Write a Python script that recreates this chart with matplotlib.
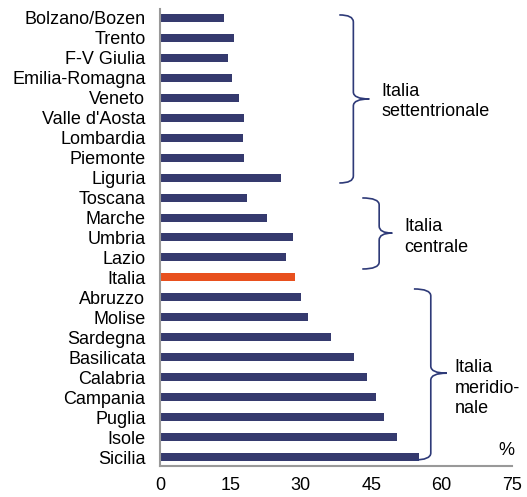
import matplotlib.pyplot as plt
from matplotlib.path import Path
from matplotlib.patches import PathPatch

plt.rcParams['font.family'] = ['Liberation Sans', 'DejaVu Sans']

regioni = ['Bolzano/Bozen', 'Trento', 'F-V Giulia', 'Emilia-Romagna', 'Veneto',
           "Valle d'Aosta", 'Lombardia', 'Piemonte', 'Liguria', 'Toscana',
           'Marche', 'Umbria', 'Lazio', 'Italia', 'Abruzzo', 'Molise', 'Sardegna',
           'Basilicata', 'Calabria', 'Campania', 'Puglia', 'Isole', 'Sicilia']
valori = [13.6, 15.7, 14.5, 15.4, 16.8, 17.9, 17.6, 18.0, 25.8, 18.5,
          22.9, 28.4, 26.9, 28.7, 30.1, 31.6, 36.5, 41.3, 44.1, 46.0,
          47.7, 50.6, 55.2]
xticks = [0, 15, 30, 45, 60, 75]

navy = '#353a6e'
orange = '#e8501e'
brace_col = '#2e3a78'
fs = 13

fig = plt.figure(figsize=(5.27, 4.97), dpi=100)
ax = fig.add_axes([0.3036, 0.0624, 0.6679, 0.9196])

colori = [orange if r == 'Italia' else navy for r in regioni]
ax.barh(range(len(regioni)), valori, height=0.4, color=colori)

ax.set_xlim(0, 75)
ax.set_ylim(len(regioni) - 0.55, -0.45)
ax.set_yticks(range(len(regioni)))
ax.set_yticklabels(regioni, fontsize=fs)
ax.set_xticks(xticks)
ax.set_xticklabels([str(t) for t in xticks], fontsize=fs)
ax.tick_params(length=0)
ax.tick_params(axis='y', pad=10.5)
ax.tick_params(axis='x', pad=8)
for s in ['top', 'right']:
    ax.spines[s].set_visible(False)
for s in ['left', 'bottom']:
    ax.spines[s].set_color('#999999')
    ax.spines[s].set_linewidth(1.5)


def graffa(x0, xv, xt, y0, y1, ym, r=0.35):
    verts = [(x0, y0), (xv, y0), (xv, y0 + r), (xv, ym - r), (xv, ym), (xt, ym),
             (x0, y1), (xv, y1), (xv, y1 - r), (xv, ym + r), (xv, ym), (xt, ym)]
    codes = [Path.MOVETO, Path.CURVE3, Path.CURVE3, Path.LINETO, Path.CURVE3, Path.CURVE3,
             Path.MOVETO, Path.CURVE3, Path.CURVE3, Path.LINETO, Path.CURVE3, Path.CURVE3]
    ax.add_patch(PathPatch(Path(verts, codes), fill=False, edgecolor=brace_col,
                           lw=1.2, clip_on=False))


graffa(38.2, 41.2, 44.6, -0.15, 8.27, 4.06)
graffa(43.1, 46.7, 49.5, 9.02, 12.58, 10.78)
graffa(54.1, 57.7, 61.1, 13.58, 22.15, 17.8)

ax.text(47.1, 4.2, 'Italia\nsettentrionale', fontsize=fs, va='center',
        linespacing=1.25, clip_on=False)
ax.text(52.0, 10.98, 'Italia\ncentrale', fontsize=fs, va='center',
        linespacing=1.25, clip_on=False)
ax.text(62.8, 18.55, 'Italia\nmeridio-\nnale', fontsize=fs, va='center',
        linespacing=1.25, clip_on=False)
ax.text(72.2, 21.65, '%', fontsize=fs, va='center', clip_on=False)

fig.savefig('out.png', dpi=100)
